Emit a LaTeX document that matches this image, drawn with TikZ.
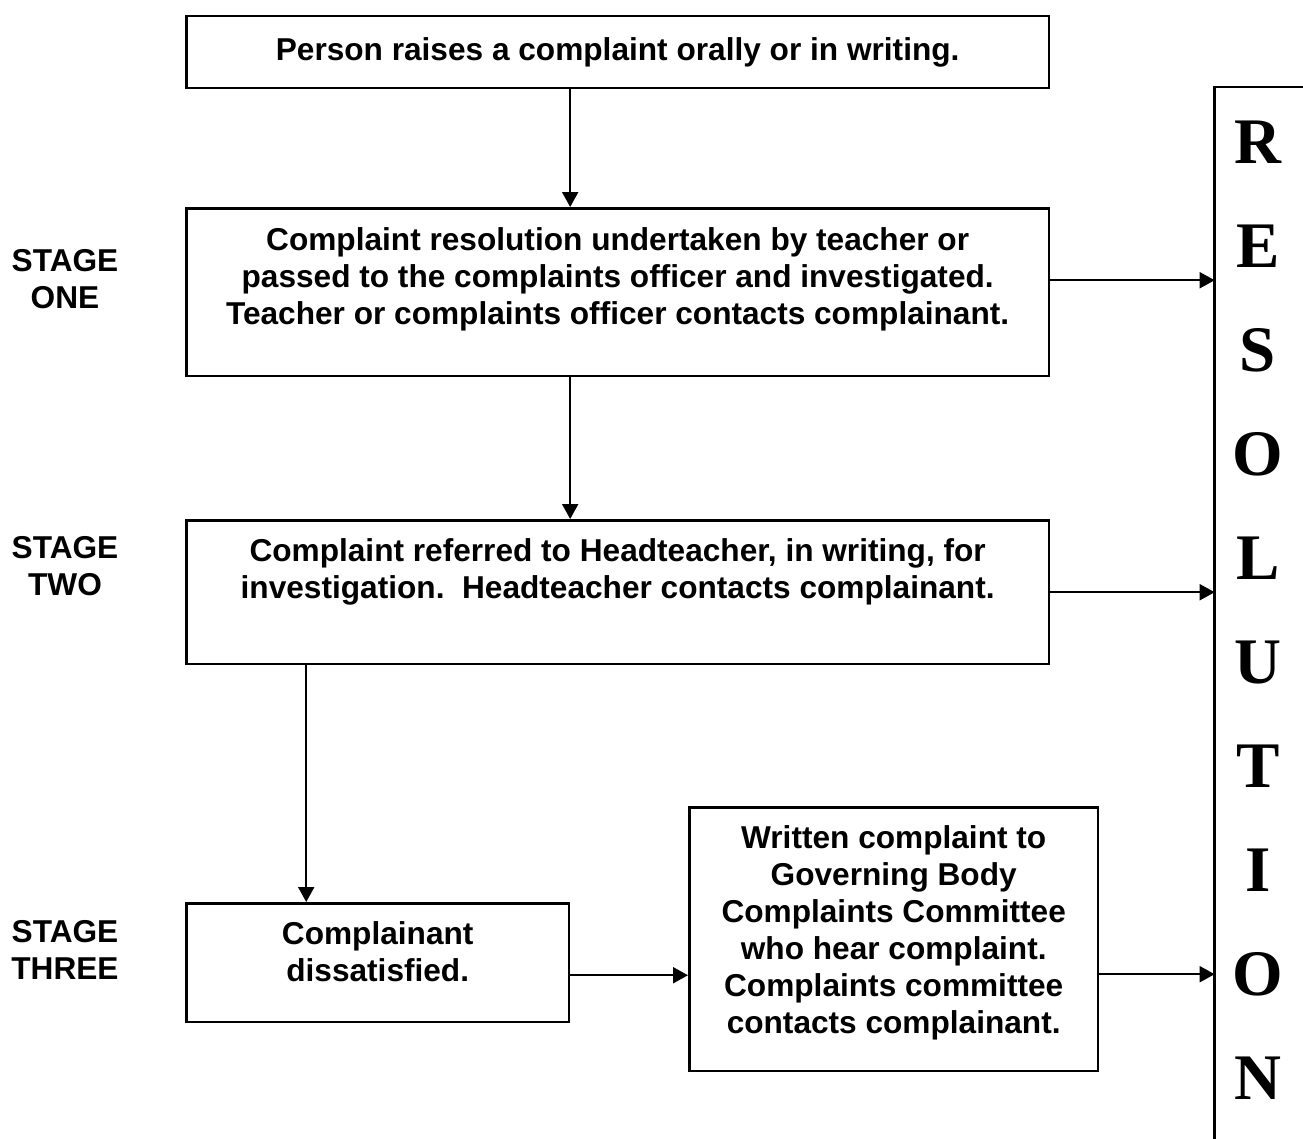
\documentclass[tikz,border=0pt]{standalone}
\usepackage{fontspec}
\setmainfont{Liberation Sans}
\newfontfamily\resfont{Liberation Serif}
\usetikzlibrary{arrows.meta}

\begin{document}
\begin{tikzpicture}[x=0.02cm, y=-0.02cm,
    box/.style={draw, line width=.05cm, align=center, anchor=north west, inner sep=0pt,
      font=\bfseries\fontsize{18}{21}\selectfont},
    stagelbl/.style={align=center, font=\bfseries\fontsize{18}{21.5}\selectfont},
    arr/.style={line width=.04cm, -{Triangle[length=.3cm, width=.32cm]}}]
        \useasboundingbox (0,0) rectangle (1303,1139);
        \clip (0,0) rectangle (1303,1139);
        \node[box, minimum width=17.26cm, minimum height=1.44cm] (b1) at (185,15)
          {Person raises a complaint orally or in writing.};
        \node[box, minimum width=17.26cm, minimum height=3.36cm, text depth=.64cm] (b2) at (185,207)
          {Complaint resolution undertaken by teacher or\\passed to the complaints officer and investigated.\\Teacher or complaints officer contacts complainant.};
        \node[box, minimum width=17.26cm, minimum height=2.88cm, text depth=.94cm] (b3) at (185,519)
          {Complaint referred to Headteacher, in writing, for\\investigation.\ \ Headteacher contacts complainant.};
        \node[box, minimum width=7.66cm, minimum height=2.38cm, text depth=.44cm] (b4) at (185,902)
          {Complainant\\dissatisfied.};
        \node[box, minimum width=8.18cm, minimum height=5.28cm, text depth=.38cm] (b5) at (688,806)
          {Written complaint to\\Governing Body\\Complaints Committee\\who hear complaint.\\Complaints committee\\contacts complainant.};
        \node[minimum width=1.72cm, minimum height=20.92cm, inner sep=0pt, align=center,
          font=\resfont\bfseries\fontsize{37}{59.2}\selectfont] (res) at (1258,610)
          {R\\E\\S\\O\\L\\U\\T\\I\\O\\N};
        \draw[line width=.05cm] ([xshift=.2cm]res.north east) -- (res.north west) -- ([yshift=-.4cm]res.south west);

        \node[stagelbl] (s1) at (65,279) {STAGE\\ONE};
        \node[stagelbl] (s2) at (65,566) {STAGE\\TWO};
        \node[stagelbl] (s3) at (65,950) {STAGE\\THREE};

        \draw[arr] ([xshift=-.95cm]b1.south) -- ([xshift=-.95cm]b1.south |- b2.north);
        \draw[arr] ([xshift=-.95cm]b2.south) -- ([xshift=-.95cm]b2.south |- b3.north);
        \draw[arr] ([xshift=-1.43cm]b4.north |- b3.south) -- ([xshift=-1.43cm]b4.north);
        \draw[arr] ([yshift=-.25cm]b4.east) -- ([yshift=-.25cm]b4.east -| b5.west);
        \draw[arr] ([yshift=.24cm]b2.east) -- ([yshift=.24cm]b2.east -| res.west);
        \draw[arr] (b3.east) -- (b3.east -| res.west);
        \draw[arr] ([yshift=-.7cm]b5.east) -- ([yshift=-.7cm]b5.east -| res.west);
      \end{tikzpicture}
\end{document}
